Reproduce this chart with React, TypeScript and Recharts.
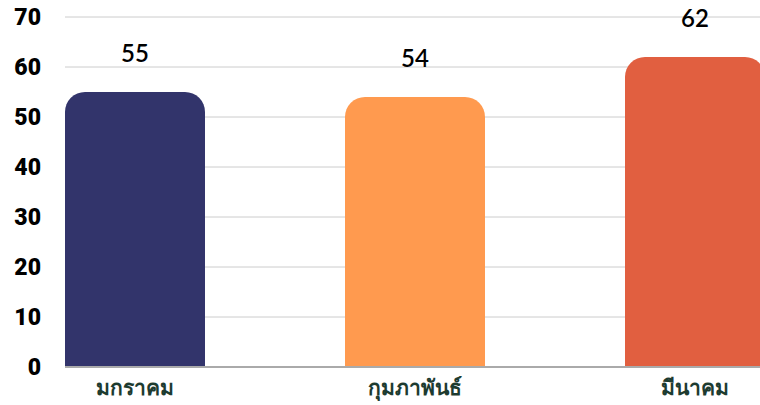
import React from "react";
import { BarChart, Bar, XAxis, YAxis, CartesianGrid, Cell, LabelList } from "recharts";

const months = ["มกราคม", "กุมภาพันธ์", "มีนาคม"];
const values = [55, 54, 62];
const colors = ["#32346B", "#FF9A4F", "#E15F40"];
const yTicks = [0, 10, 20, 30, 40, 50, 60, 70];

const data = months.map((m, i) => ({ name: m, value: values[i] }));

export default function App() {
  return (
    <div style={{ position: "fixed", left: 0, top: 0, width: 760, height: 405, overflow: "hidden", background: "#fff" }}>
      <BarChart
        width={760}
        height={405}
        data={data}
        margin={{ top: 17, right: 0, bottom: 0, left: 0 }}
        barCategoryGap={70}
      >
        <CartesianGrid horizontal vertical={false} stroke="#cccccc" strokeWidth={1} />
        <XAxis
          dataKey="name"
          height={38}
          padding={{ left: -70, right: -75 }}
          tickLine={false}
          axisLine={{ stroke: "#aaaaaa", strokeWidth: 2 }}
          tickSize={0}
          tickMargin={13}
          interval={0}
          tick={{ fill: "#1d3b30", fontSize: 21, fontWeight: 900, fontFamily: "Noto Sans, sans-serif" }}
        />
        <YAxis
          width={65}
          domain={[0, 70]}
          ticks={yTicks}
          tickLine={false}
          axisLine={false}
          tickSize={0}
          tickMargin={24}
          tick={{ fill: "#000", fontSize: 23, fontWeight: 900, fontFamily: "Roboto, sans-serif" }}
        />
        <Bar dataKey="value" isAnimationActive={false} radius={[20, 20, 0, 0]}>
          {data.map((d, i) => (
            <Cell key={d.name} fill={colors[i]} />
          ))}
          <LabelList
            dataKey="value"
            position="top"
            offset={30}
            style={{ fill: "#000", fontSize: 24, fontWeight: 600, fontFamily: "Lato, sans-serif" }}
          />
        </Bar>
      </BarChart>
    </div>
  );
}
